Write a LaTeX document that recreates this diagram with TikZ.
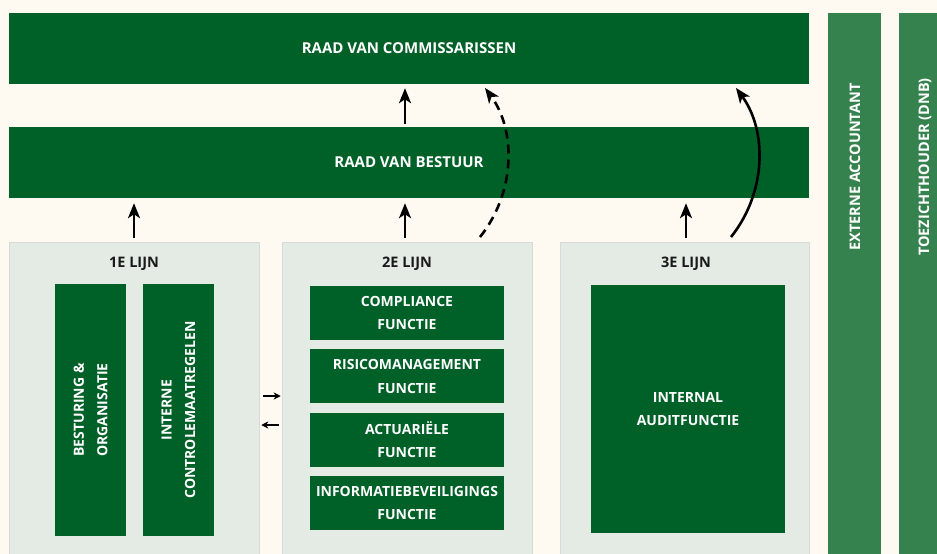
\documentclass[tikz,border=0pt]{standalone}
\usepackage{fontspec}
\setmainfont{Open Sans}
\usetikzlibrary{positioning, arrows.meta}
\definecolor{bgcream}{RGB}{254,250,242}
\definecolor{darkgreen}{RGB}{0,97,40}
\definecolor{midgreen}{RGB}{53,130,79}
\definecolor{panelgrey}{RGB}{228,235,228}
\tikzset{node distance=9pt, % Gap between the boxes of one line
bar/.style={ % Wide green bars at the top
fill=darkgreen, text=white, inner sep=0pt,
minimum width=800pt, minimum height=71pt,
font=\bfseries\fontsize{15}{18}\selectfont},
panel/.style={ % Light panels of the three lines
fill=panelgrey, draw=black!15, line width=.5pt, inner sep=0pt,
minimum width=250pt, minimum height=312pt},
lijntitle/.style={ % Title of each line
text=black!90, font=\bfseries\fontsize{14.5}{17}\selectfont},
funcbox/.style={ % Green boxes inside the panels
fill=darkgreen, text=white, inner sep=0pt, align=center,
font=\bfseries\fontsize{14}{23.5}\selectfont},
sidebar/.style={ % Tall bars on the right
fill=midgreen, inner sep=0pt, minimum height=541pt},
sidetext/.style={ % Their rotated labels
rotate=90, text=white, font=\bfseries\fontsize{14.5}{17}\selectfont},
uparrow/.style={ % Thick arrows between the layers
draw, line width=2.6pt, -{Stealth[length=15pt, width=12pt, inset=4pt]}},
smallarrow/.style={ % Small arrows between line 1 and 2
draw, line width=2pt, -{Stealth[length=7pt, width=7pt, inset=2pt]}}}

\begin{document}
\begin{tikzpicture}[x=1pt, y=-1pt]

    \fill[bgcream] (0,0) rectangle (937,554);
    \useasboundingbox (0,0) rectangle (937,554);

    \node[bar] (rvc) at (409,48.5) {RAAD VAN COMMISSARISSEN};
    \node[bar] (rvb) at (409,162.5) {RAAD VAN BESTUUR};

    \node[sidebar, minimum width=53pt] (ext) at (854.5,283.5) {};
    \node[sidebar, minimum width=38pt] (toez) at (918,283.5) {};
    \node[sidetext] (extlabel) at (855,167) {EXTERNE ACCOUNTANT};
    \node[sidetext] (toezlabel) at (925,167) {TOEZICHTHOUDER (DNB)};

    \node[panel] (lijn1) at (134,398) {};
    \node[panel] (lijn2) at (407,398) {};
    \node[panel, minimum width=249pt] (lijn3) at (684.5,398) {};

    \node[lijntitle] (title1) at (134,263.5) {1E LIJN};
    \node[lijntitle] (title2) at (407,263.5) {2E LIJN};
    \node[lijntitle] (title3) at (686,263.5) {3E LIJN};

    % 1e lijn
    \node[funcbox, rotate=90, minimum width=252pt, minimum height=71pt] (best) at (90.5,410) {BESTURING \&\\ORGANISATIE};
    \node[funcbox, rotate=90, minimum width=252pt, minimum height=71pt] (intern) at (178.5,410) {INTERNE\\CONTROLEMAATREGELEN};

    % 2e lijn
    \node[funcbox, minimum width=194pt, minimum height=54pt] (compl) at (407,313) {COMPLIANCE\\FUNCTIE};
    \node[funcbox, minimum width=194pt, minimum height=54pt, below=of compl] (risico) {RISICOMANAGEMENT\\FUNCTIE};
    \node[funcbox, minimum width=194pt, minimum height=54pt, below=of risico] (actu) {ACTUARIËLE\\FUNCTIE};
    \node[funcbox, minimum width=194pt, minimum height=54pt, below=of actu] (info) {INFORMATIEBEVEILIGINGS\\FUNCTIE};

    % 3e lijn
    \node[funcbox, minimum width=194pt, minimum height=248pt] (audit) at (688,409) {INTERNAL\\AUDITFUNCTIE};

    \coordinate (dstart) at (480,237);
    \coordinate (dend) at (485,88);
    \coordinate (sstart) at (731,237);
    \coordinate (send) at (736,88);

    \draw[uparrow, shorten <=4pt, shorten >=5pt] (lijn1.north) -- (lijn1.north |- rvb.south);
    \draw[uparrow, shorten <=4pt, shorten >=5pt] ([xshift=-2pt]lijn2.north) -- ([xshift=-2pt]lijn2.north |- rvb.south);
    \draw[uparrow, shorten <=4pt, shorten >=5pt] ([xshift=1.5pt]lijn3.north) -- ([xshift=1.5pt]lijn3.north |- rvb.south);
    \draw[uparrow, shorten <=3pt, shorten >=4pt] ([xshift=-2pt]rvb.north -| lijn2.north) -- ([xshift=-2pt]rvc.south -| lijn2.north);

    \draw[uparrow, dash pattern=on 9pt off 6pt] (dstart) .. controls (516,192) and (516,130) .. (dend);
    \draw[uparrow] (sstart) .. controls (767,192) and (767,130) .. (send);

    \draw[smallarrow, shorten <=4pt, shorten >=1pt] ([yshift=2pt]lijn1.east) -- ([yshift=2pt]lijn2.west);
    \draw[smallarrow, shorten <=3pt, shorten >=2pt] ([yshift=-27pt]lijn2.west) -- ([yshift=-27pt]lijn1.east);

\end{tikzpicture}
\end{document}
